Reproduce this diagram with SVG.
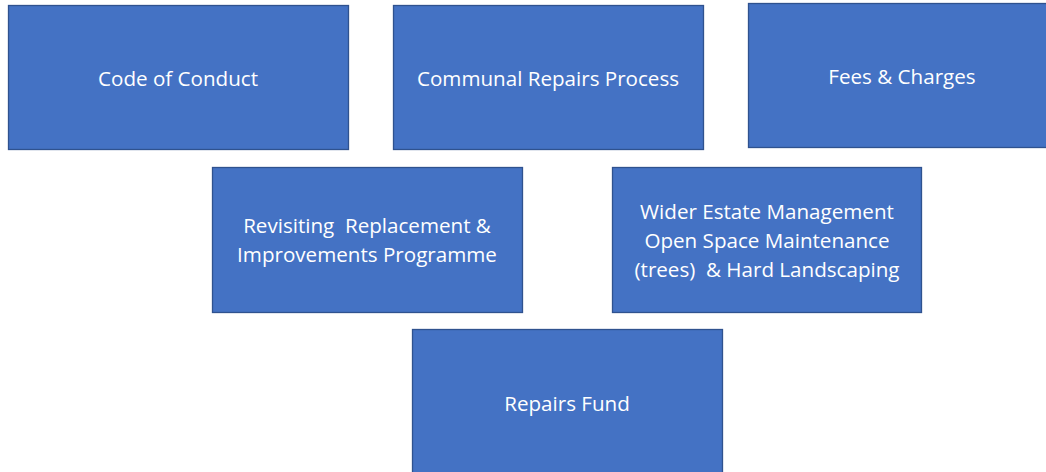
<svg xmlns="http://www.w3.org/2000/svg" width="1046" height="472" viewBox="0 0 1046 472">
<style>
.box{fill:#4472C4;stroke:#2F528F;stroke-width:1.3}
.t{fill:#ffffff;font-family:"Open Sans","Liberation Sans",sans-serif;font-size:20.6px;text-anchor:middle}
</style>
<rect width="1046" height="472" fill="#ffffff"/>
<g id="connectors"></g>
<g id="code-of-conduct"><rect class="box" x="8.5" y="5.5" width="340" height="144"/><text class="t" x="178" y="86">Code of Conduct</text></g>
<g id="communal-repairs"><rect class="box" x="393.5" y="5.5" width="310" height="144"/><text class="t" x="548" y="86">Communal Repairs Process</text></g>
<g id="fees-charges"><rect class="box" x="748.5" y="3.5" width="310" height="144"/><text class="t" x="902" y="84">Fees &amp; Charges</text></g>
<g id="revisiting"><rect class="box" x="212.5" y="167.5" width="310" height="145"/><text class="t" x="367" y="233" xml:space="preserve">Revisiting  Replacement &amp;</text><text class="t" x="367" y="262">Improvements Programme</text></g>
<g id="wider-estate"><rect class="box" x="612.5" y="167.5" width="309" height="145"/><text class="t" x="767" y="219">Wider Estate Management</text><text class="t" x="767" y="248">Open Space Maintenance</text><text class="t" x="767" y="277" xml:space="preserve">(trees)  &amp; Hard Landscaping</text></g>
<g id="repairs-fund"><rect class="box" x="412.5" y="329.5" width="310" height="150"/><text class="t" x="567" y="411">Repairs Fund</text></g>
</svg>
